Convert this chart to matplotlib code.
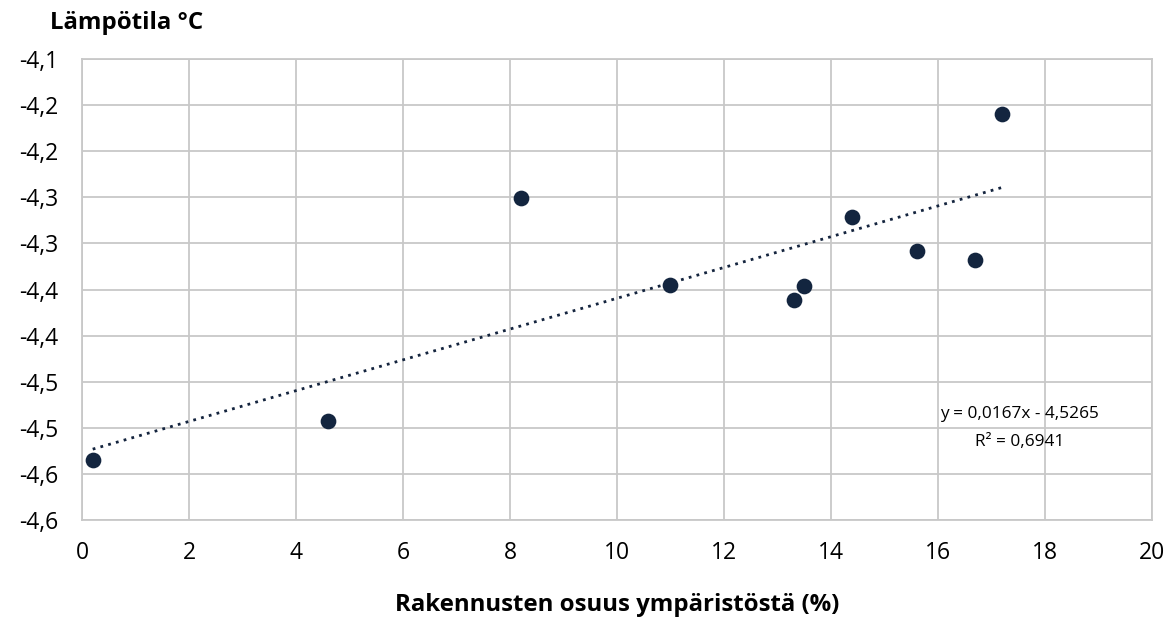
import matplotlib
matplotlib.use("Agg")
import matplotlib.pyplot as plt
import numpy as np

# data
share_pct = [0.2, 4.6, 8.2, 11.0, 13.3, 13.5, 14.4, 15.6, 16.7, 17.2]
temp_c = [-4.535, -4.493, -4.251, -4.345, -4.361, -4.346, -4.271, -4.308, -4.318, -4.160]

slope = 0.0167
intercept = -4.5265
r2 = 0.6941

y_ticks = [-4.6, -4.55, -4.5, -4.45, -4.4, -4.35, -4.3, -4.25, -4.2, -4.15, -4.1]
y_tick_labels = ["-4,6", "-4,6", "-4,5", "-4,5", "-4,4", "-4,4", "-4,3", "-4,3", "-4,2", "-4,2", "-4,1"]
x_ticks = [0, 2, 4, 6, 8, 10, 12, 14, 16, 18, 20]

plt.rcParams['font.family'] = ['Open Sans', 'DejaVu Sans']

fig = plt.figure(figsize=(11.73, 6.30), dpi=100)
ax = fig.add_axes([0.0699, 0.1746, 0.9122, 0.7317])

# trend line over the data range
tx = np.array([min(share_pct), max(share_pct)])
ax.plot(tx, slope * tx + intercept, color='#14243e', linestyle=(0, (1, 1.9)), linewidth=2.0, zorder=2)

ax.scatter(share_pct, temp_c, s=128, color='#13253f', linewidths=0, zorder=3)

ax.set_xlim(0, 20)
ax.set_ylim(-4.6, -4.1)
ax.set_xticks(x_ticks)
ax.set_xticklabels([str(v) for v in x_ticks])
ax.set_yticks(y_ticks)
ax.set_yticklabels(y_tick_labels)
ax.tick_params(length=0, labelsize=16.5)
ax.tick_params(axis='y', pad=17)
ax.tick_params(axis='x', pad=15)
ax.grid(True, color='#c8c8c8', linewidth=1.3)
ax.set_axisbelow(True)
for s in ax.spines.values():
    s.set_color('#c8c8c8')
    s.set_linewidth(1.3)

ax.set_xlabel("Rakennusten osuus ympäristöstä (%)", fontsize=17.3, fontweight='bold', labelpad=20)
fig.text(0.043, 0.963, "Lämpötila °C", fontsize=17.3, fontweight='bold', ha='left', va='center')

ax.text(17.53, -4.5, "y = 0,0167x - 4,5265\nR² = 0,6941", fontsize=12.4,
        ha='center', va='center', linespacing=2.0)

fig.savefig("out.png", dpi=100)
